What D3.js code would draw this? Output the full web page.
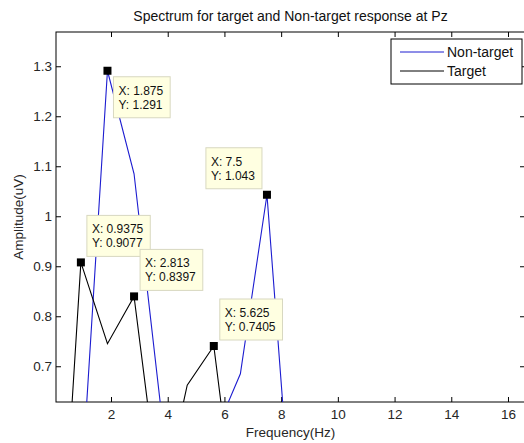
<!DOCTYPE html>
<html>
<head>
<meta charset="utf-8">
<script src="https://cdn.jsdelivr.net/npm/d3@7"></script>
<style>
    body { margin: 0; background: #fff; }
    svg { font-family: "Liberation Sans", Arial, sans-serif; }
    .tick text { fill: #262626; }
</style>
</head>
<body>
<div id="chart"></div>
<script>
// spectrum bins (Hz)
let freq = [0, 0.9375, 1.875, 2.8125, 3.75, 4.6875, 5.625, 6.5625, 7.5, 8.4375,
            9.375, 10.3125, 11.25, 12.1875, 13.125, 14.0625, 15, 15.9375, 16.875];
let nonTarget = [0.10, 0.44, 1.291, 1.085, 0.62, 0.45, 0.56, 0.685, 1.043, 0.34,
                 0.30, 0.27, 0.28, 0.25, 0.24, 0.22, 0.21, 0.20, 0.19];
let target = [0.06, 0.9077, 0.745, 0.8397, 0.42, 0.662, 0.7405, 0.32, 0.30, 0.28,
              0.26, 0.25, 0.24, 0.23, 0.22, 0.21, 0.20, 0.19, 0.18];

let xTicks = [2, 4, 6, 8, 10, 12, 14, 16];
let yTicks = [0.7, 0.8, 0.9, 1, 1.1, 1.2, 1.3];
let seriesNames = ['Non-target', 'Target'];

// data tips
let tipX = ['1.875', '7.5', '0.9375', '2.813', '5.625'];
let tipY = ['1.291', '1.043', '0.9077', '0.8397', '0.7405'];
let tipCorner = ['se', 'nw', 'ne', 'ne', 'ne'];

let width = 524, height = 443;
let plotL = 56, plotR = 525, plotT = 32, plotB = 402;
let blue = '#1c1cd0';

let svg = d3.select('#chart').append('svg')
    .attr('width', width)
    .attr('height', height);

let xScale = d3.scaleLinear()
    .domain([0.06, 16.6])
    .range([plotL, plotR]);

let yScale = d3.scaleLinear()
    .domain([0.6285, 1.3685])
    .range([plotB, plotT]);

svg.append('defs').append('clipPath')
    .attr('id', 'plotClip')
    .append('rect')
    .attr('x', plotL).attr('y', plotT)
    .attr('width', plotR - plotL).attr('height', plotB - plotT);

// axes box with ticks on every side
svg.append('rect')
    .attr('x', plotL).attr('y', plotT)
    .attr('width', plotR - plotL).attr('height', plotB - plotT)
    .attr('fill', '#fff')
    .attr('stroke', '#000');

let xBottom = svg.append('g')
    .attr('transform', `translate(0, ${plotB})`)
    .call(d3.axisBottom(xScale).tickValues(xTicks).tickSizeInner(-5).tickSizeOuter(0).tickPadding(7));
let xTop = svg.append('g')
    .attr('transform', `translate(0, ${plotT})`)
    .call(d3.axisTop(xScale).tickValues(xTicks).tickSizeInner(-5).tickSizeOuter(0).tickFormat(''));
let yLeft = svg.append('g')
    .attr('transform', `translate(${plotL}, 0)`)
    .call(d3.axisLeft(yScale).tickValues(yTicks).tickSizeInner(-5).tickSizeOuter(0).tickPadding(4).tickFormat(d3.format('')));
let yRight = svg.append('g')
    .attr('transform', `translate(${plotR}, 0)`)
    .call(d3.axisRight(yScale).tickValues(yTicks).tickSizeInner(-5).tickSizeOuter(0).tickFormat(''));

[xBottom, xTop, yLeft, yRight].forEach(g => {
    g.select('.domain').remove();
    g.selectAll('.tick line').attr('stroke', '#000');
    g.selectAll('.tick text').style('font-size', '13.5px');
});

// curves
let line = d3.line()
    .x((d, i) => xScale(freq[i]))
    .y(d => yScale(d));

let plot = svg.append('g').attr('clip-path', 'url(#plotClip)');

plot.append('path')
    .datum(nonTarget)
    .attr('d', line)
    .attr('fill', 'none')
    .attr('stroke', blue)
    .attr('stroke-width', 1.1);

plot.append('path')
    .datum(target)
    .attr('d', line)
    .attr('fill', 'none')
    .attr('stroke', '#000')
    .attr('stroke-width', 1.1);

// titles
svg.append('text')
    .attr('x', (plotL + plotR) / 2)
    .attr('y', 20.5)
    .attr('text-anchor', 'middle')
    .style('font-size', '14px')
    .attr('fill', '#111')
    .text('Spectrum for target and Non-target response at Pz');

svg.append('text')
    .attr('x', (plotL + plotR) / 2)
    .attr('y', 437)
    .attr('text-anchor', 'middle')
    .style('font-size', '13.5px')
    .attr('fill', '#262626')
    .text('Frequency(Hz)');

svg.append('text')
    .attr('transform', `translate(23, ${(plotT + plotB) / 2}) rotate(-90)`)
    .attr('text-anchor', 'middle')
    .style('font-size', '13.5px')
    .attr('fill', '#262626')
    .text('Amplitude(uV)');

// data tips
let tips = svg.append('g');
tipX.forEach((tx, i) => {
    let px = xScale(+tx), py = yScale(+tipY[i]);
    let g = tips.append('g');
    let box = g.append('rect')
        .attr('fill', '#ffffe1')
        .attr('stroke', '#d8d8c0');
    let t1 = g.append('text').style('font-size', '12px').attr('fill', '#111').text('X: ' + tx);
    let t2 = g.append('text').style('font-size', '12px').attr('fill', '#111').text('Y: ' + tipY[i]);
    let w = Math.max(t1.node().getComputedTextLength(), t2.node().getComputedTextLength()) + 12;
    let h = 41;
    let bx = tipCorner[i] == 'nw' ? px - 5 - w : px + 6;
    let by = tipCorner[i] == 'se' ? py + 6 : py - 6 - h;
    box.attr('x', bx).attr('y', by).attr('width', w).attr('height', h);
    t1.attr('x', bx + 5).attr('y', by + 18);
    t2.attr('x', bx + 5).attr('y', by + 32);
    g.append('rect')
        .attr('x', px - 4).attr('y', py - 4)
        .attr('width', 8).attr('height', 8)
        .attr('fill', '#000');
});

// legend
let legend = svg.append('g');
legend.append('rect')
    .attr('x', 391).attr('y', 39)
    .attr('width', 131).attr('height', 45)
    .attr('fill', '#fff')
    .attr('stroke', '#000');
legend.selectAll('g')
    .data(seriesNames)
    .join('g')
    .attr('transform', (d, i) => `translate(400, ${52 + i * 19})`)
    .call(g => g.append('line')
        .attr('x1', 0).attr('x2', 44)
        .attr('stroke', (d, i) => i == 0 ? blue : '#000'))
    .call(g => g.append('text')
        .attr('x', 47).attr('dy', '0.35em')
        .style('font-size', '14px')
        .attr('fill', '#111')
        .text(d => d));
</script>
</body>
</html>
